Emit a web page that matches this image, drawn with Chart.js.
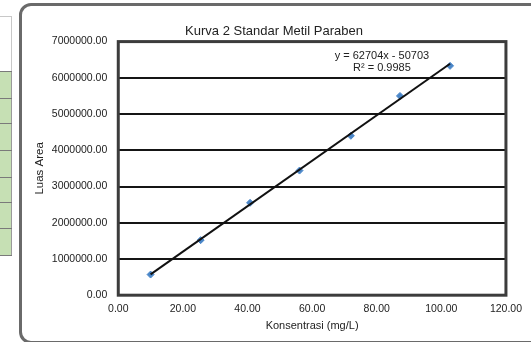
<!DOCTYPE html>
<html>
<head>
<meta charset="utf-8">
<script src="https://cdn.jsdelivr.net/npm/chart.js@4/dist/chart.umd.min.js"></script>
<style>
  html, body { margin: 0; padding: 0; background: #fff; }
  body { width: 531px; height: 342px; position: relative; overflow: hidden; font-family: "Liberation Sans", Arial, sans-serif; }
  #sheet { position: absolute; left: 0; top: 16px; width: 11px; height: 55px; border-top: 1px solid #c8c8c8; border-right: 1px solid #c8c8c8; }
  #green { position: absolute; left: 0; top: 71px; width: 11px; height: 184px; background: #c6e0b4; border-right: 1px solid #9a9a9a; }
  .row { position: absolute; left: 0; width: 12px; height: 1px; background: #7a7a7a; }
  #frame { position: absolute; left: 19px; top: 3px; width: 620px; height: 341px; border: 3px solid #6a6a6a; border-radius: 12px; box-sizing: border-box; }
  #wrap { position: absolute; left: 14px; top: 0px; width: 516px; height: 342px; }
</style>
</head>
<body>
<div id="sheet"></div>
<div id="green"></div>
<div id="frame"></div>
<div id="wrap"><canvas id="c" width="516" height="342"></canvas></div>
<script>
// ---- data ----
const chartTitle = "Kurva 2 Standar Metil Paraben";
const xAxisTitle = "Konsentrasi (mg/L)";
const yAxisTitle = "Luas Area";
const concentrations = [10.0, 25.5, 40.8, 56.1, 72.0, 87.2, 102.7];
const areas = [570000, 1520000, 2550000, 3440000, 4400000, 5500000, 6330000];
const trendX = [10.0, 102.7];
const trendY = [576000, 6389000];
const equationLines = ["y = 62704x - 50703", "R\u00B2 = 0.9985"];
const xTicks = [0, 20, 40, 60, 80, 100, 120];
const yTicks = [0, 1000000, 2000000, 3000000, 4000000, 5000000, 6000000, 7000000];

// row lines of the sheet fragment on the left
const sheetRows = [71, 98, 123, 150, 177, 202, 228, 255];
sheetRows.forEach(y => { const d = document.createElement('div'); d.className = 'row'; d.style.top = y + 'px'; document.body.appendChild(d); });

const FONT = "'Liberation Sans', Arial, sans-serif";
const TXT = '#222';

const eqPlugin = {
  id: 'eqLabel',
  afterDatasetsDraw(chart) {
    const { ctx, scales } = chart;
    const cx = scales.x.getPixelForValue(81.6);
    const y0 = scales.y.getPixelForValue(6600000);
    ctx.save();
    ctx.font = "11px " + FONT;
    ctx.fillStyle = TXT;
    ctx.textAlign = 'center';
    ctx.textBaseline = 'middle';
    ctx.fillText(equationLines[0], cx, y0);
    ctx.fillText(equationLines[1], cx, y0 + 12);
    ctx.restore();
  }
};

const plotBorder = {
  id: 'plotBorder',
  beforeDatasetsDraw(chart) {
    const { ctx, chartArea: a } = chart;
    ctx.save();
    ctx.strokeStyle = '#3c3c3c';
    ctx.lineWidth = 3;
    ctx.strokeRect(a.left, a.top, a.right - a.left, a.bottom - a.top);
    ctx.restore();
  }
};

new Chart(document.getElementById('c'), {
  type: 'scatter',
  data: {
    datasets: [
      {
        label: 'Trend',
        type: 'line',
        data: trendX.map((x, i) => ({ x, y: trendY[i] })),
        borderColor: '#111',
        borderWidth: 2,
        pointRadius: 0,
        fill: false
      },
      {
        label: 'Data',
        data: concentrations.map((x, i) => ({ x, y: areas[i] })),
        pointStyle: 'rectRot',
        pointRadius: 3.5,
        backgroundColor: '#4a86c8',
        borderColor: '#4a86c8',
        borderWidth: 1
      }
    ]
  },
  options: {
    responsive: false,
    animation: false,
    devicePixelRatio: 1,
    layout: { padding: { left: 19, right: 15, top: 0, bottom: 9 } },
    plugins: {
      legend: { display: false },
      tooltip: { enabled: false },
      title: {
        display: true,
        text: chartTitle,
        color: TXT,
        font: { family: FONT, size: 13, weight: 'normal' },
        padding: { top: 24, bottom: 2 }
      }
    },
    scales: {
      x: {
        type: 'linear',
        min: 0, max: 120,
        afterBuildTicks: s => { s.ticks = xTicks.map(v => ({ value: v })); },
        ticks: { color: TXT, font: { family: FONT, size: 10.5 }, padding: 8, maxRotation: 0, callback: v => Number(v).toFixed(2) },
        grid: { display: false, drawTicks: false },
        border: { display: false },
        title: { display: true, text: xAxisTitle, color: TXT, font: { family: FONT, size: 11 }, padding: { top: -4, bottom: 0 } }
      },
      y: {
        type: 'linear',
        min: 0, max: 7000000,
        afterBuildTicks: s => { s.ticks = yTicks.map(v => ({ value: v })); },
        ticks: { color: TXT, font: { family: FONT, size: 10.5 }, padding: 11, callback: v => Number(v).toFixed(2) },
        grid: { color: '#151515', lineWidth: 2, drawTicks: false },
        border: { display: false },
        title: { display: true, text: yAxisTitle, color: TXT, font: { family: FONT, size: 11.5 }, padding: { top: 0, bottom: -6 } }
      }
    }
  },
  plugins: [plotBorder, eqPlugin]
});
</script>
</body>
</html>
